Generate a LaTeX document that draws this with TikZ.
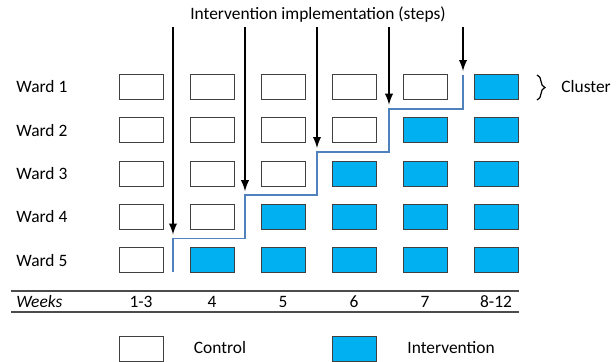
\documentclass[tikz,border=0pt]{standalone}
\usepackage{fontspec}
\setmainfont{Carlito}
\usetikzlibrary{decorations.pathreplacing}
\definecolor{azzurro}{HTML}{00B0F0}
\definecolor{gradino}{HTML}{4F81BD}
\tikzset{
	cella/.style={draw=black!75, line width=0.5pt, minimum width=22pt, minimum height=12.5pt, inner sep=0pt},
	interv/.style={cella, fill=azzurro},
	etich/.style={font=\fontsize{8.7}{10}\selectfont, inner sep=0pt},
}
\begin{document}
\begin{tikzpicture}[>=latex, x=0.5pt, y=-0.5pt]
			% Definizioni per la griglia
			\def\Xzero{141}
			\def\dX{71}
			\def\Yzero{87}
			\def\dY{43.3}
			
			\useasboundingbox (0,0) rectangle (616,361);
			
			% --- Titolo ---
			\node[etich] (titolo) at (318,15) {Intervention implementation (steps)};
			
			% --- Celle ---
			\foreach \r in {1,...,5}{
				\node[etich, anchor=west] (w\r) at (16, {\Yzero+(\r-1)*\dY}) {Ward \r};
				\foreach \c in {1,...,6}{
					\pgfmathtruncatemacro{\soglia}{7-\r}
					\ifnum\c<\soglia
						\node[cella] (b\r\c) at ({\Xzero+(\c-1)*\dX}, {\Yzero+(\r-1)*\dY}) {};
					\else
						\node[interv] (b\r\c) at ({\Xzero+(\c-1)*\dX}, {\Yzero+(\r-1)*\dY}) {};
					\fi
				}
			}
			
			% --- Gradini ---
			\coordinate (s0) at (173,272);
			\coordinate (s1) at (173,238.5);
			\coordinate (s2) at (245,195.2);
			\coordinate (s3) at (317,152);
			\coordinate (s4) at (389,108.7);
			\coordinate (s5) at (463,75);
			\draw[gradino, line width=0.9pt] (s0) -- (s1) -| (s2) -| (s3) -| (s4) -| (s5);
			
			% --- Frecce ---
			\foreach \k in {1,...,5}{
				\coordinate (t\k) at (s\k |- 0,27);
				\draw[->, line width=0.9pt, shorten >=2] (t\k) -- (s\k);
			}
			
			% --- Cluster ---
			\draw[line width=0.6pt, decorate, decoration={brace, amplitude=4pt}] (537,75) -- (537,100);
			\node[etich, anchor=west] (cluster) at (561,87) {Cluster};
			
			% --- Settimane ---
			\coordinate (l1) at (11,291);
			\coordinate (r1) at (519,291);
			\coordinate (l2) at (11,312);
			\coordinate (r2) at (519,312);
			\draw[black!70, line width=0.6pt] (l1) -- (r1);
			\draw[black!70, line width=0.6pt] (l2) -- (r2);
			\node[etich, anchor=west] (sett) at (16,301.5) {\itshape Weeks};
			\node[etich] (k1) at (141,301.5) {1-3};
			\node[etich] (k2) at (212,301.5) {4};
			\node[etich] (k3) at (283,301.5) {5};
			\node[etich] (k4) at (354,301.5) {6};
			\node[etich] (k5) at (425,301.5) {7};
			\node[etich] (k6) at (496,301.5) {8-12};
			
			% --- Legenda ---
			\node[cella] (lc) at (141,348.5) {};
			\node[etich] (tc) at (220,348) {Control};
			\node[interv] (li) at (354,348.5) {};
			\node[etich, anchor=west] (ti) at (407,348) {Intervention};
		\end{tikzpicture}
\end{document}
